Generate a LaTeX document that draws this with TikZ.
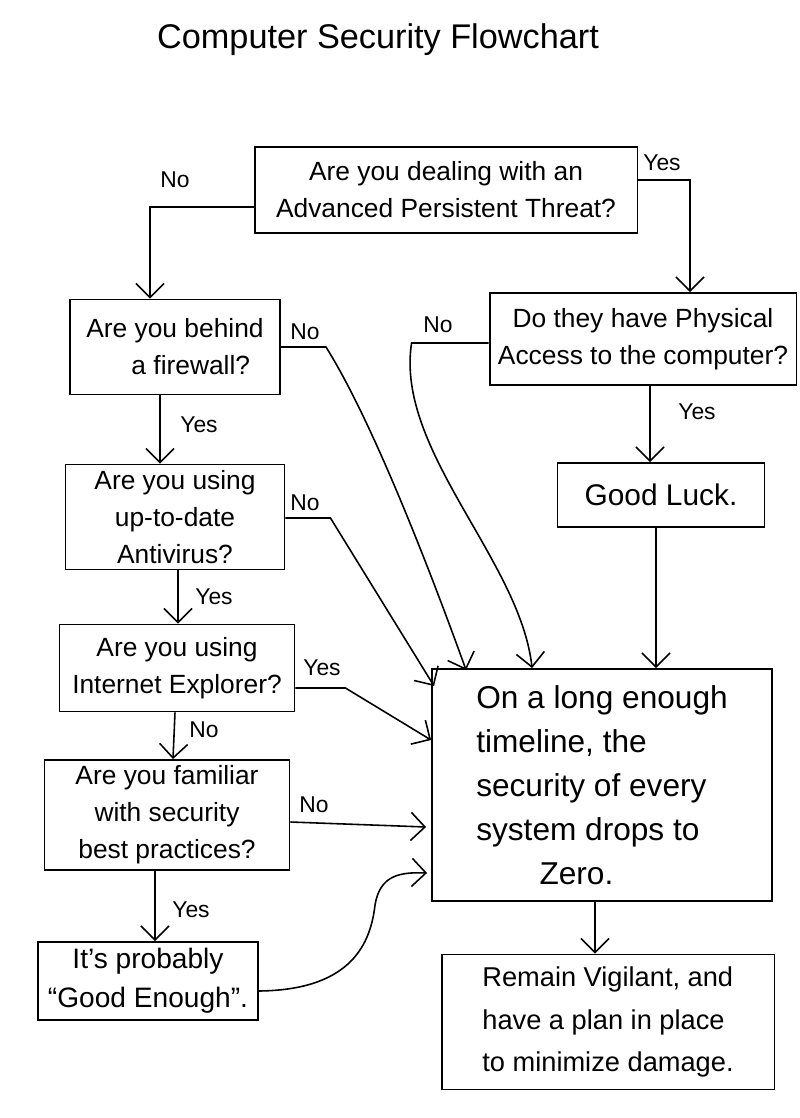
\documentclass[tikz,border=0pt]{standalone}
\usepackage{fontspec}
\setmainfont{Liberation Sans}
\usetikzlibrary{arrows.meta,calc}
\begin{document}
\begin{tikzpicture}[x=0.02cm,y=-0.02cm,
 box/.style={draw, line width=1.1pt, inner sep=0pt, align=center, font=\fontsize{15}{21}\selectfont},
 conn/.style={line width=0.9pt},
 arr/.style={line width=0.9pt, -{Straight Barb[length=8pt,width=16pt]}},
 lbl/.style={font=\fontsize{13}{15}\selectfont, inner sep=0pt}]
\useasboundingbox[fill=white] (0,0) rectangle (800,1118);

\node[font=\fontsize{19.5}{23}\selectfont] (title) at (378,40) {Computer Security Flowchart};

\node[box, minimum width=7.66cm, minimum height=1.72cm] (apt) at (446,190) {Are you dealing with an\\Advanced Persistent Threat?};
\node[box, minimum width=4.2cm, minimum height=1.9cm] (fw) at (175,347) {Are you behind\\\hspace*{1.2em}a firewall?};
\node[box, minimum width=6.14cm, minimum height=1.84cm] (phys) at (643,339) {Do they have Physical\\Access to the computer?};
\node[box, minimum width=4.38cm, minimum height=2.1cm] (av) at (175,517) {Are you using\\up-to-date\\Antivirus?};
\node[box, minimum width=4.14cm, minimum height=1.28cm, font=\fontsize{17}{21}\selectfont] (gl) at (661,495) {Good Luck.};
\node[box, minimum width=4.7cm, minimum height=1.74cm] (ie) at (177,668) {Are you using\\Internet Explorer?};
\node[box, minimum width=6.8cm, minimum height=4.64cm, align=left, font=\fontsize{18}{25}\selectfont] (zero) at (602,785) {On a long enough\\timeline, the\\security of every\\system drops to\\\hspace*{2em}Zero.};
\node[box, minimum width=4.9cm, minimum height=2.2cm] (fam) at (167,815) {Are you familiar\\with security\\best practices?};
\node[box, minimum width=4.4cm, minimum height=1.56cm, font=\fontsize{16}{22}\selectfont] (ge) at (148,981) {It's probably\\``Good Enough''.};
\node[box, minimum width=6.66cm, minimum height=2.7cm, align=left, font=\fontsize{15.5}{24}\selectfont] (vig) at (608,1022) {Remain Vigilant, and\\have a plan in place\\to minimize damage.};

% APT
\draw[arr] ($(apt.west)+(0,17)$) -| ($(fw.north)+(-25,0)$);
\node[lbl] (l1) at (175,180) {No};
\draw[arr] ($(apt.east)+(0,-10)$) -| ($(phys.north)+(47,0)$);
\node[lbl] (l2) at (662,163) {Yes};

% firewall
\draw[arr] (fw.east) -- ++(45,0) coordinate (fwc) .. controls (372,420) and (430,570) .. ($(zero.north west)+(35,2)$);
\node[lbl] (l3) at (305,332) {No};
\draw[arr] ($(fw.south)+(-15,0)$) -- ($(av.north)+(-15,0)$);
\node[lbl] (l4) at (199,425) {Yes};

% physical
\draw[arr] ($(phys.west)+(0,4)$) -- ++(-77,0) coordinate (phc) .. controls (395,450) and (520,560) .. ($(zero.north west)+(101,0)$);
\node[lbl] (l5) at (438,325) {No};
\draw[arr] ($(phys.south)+(7,0)$) -- ($(gl.north)+(-11,0)$);
\node[lbl] (l6) at (697,412) {Yes};
\draw[arr] ($(gl.south)+(-5,0)$) -- ($(zero.north)+(54,0)$);

% antivirus
\draw[arr] ($(av.east)+(0,1)$) -- ++(45,0) coordinate (avc) -- ($(zero.north west)+(3,18)$);
\node[lbl] (l7) at (305,503) {No};
\draw[arr] ($(av.south)+(3,0)$) -- ($(ie.north)+(1,0)$);
\node[lbl] (l8) at (214,597) {Yes};

% IE
\draw[arr] ($(ie.east)+(0,20)$) -- ++(50,0) coordinate (iec) -- ($(zero.west)+(0,-45)$);
\node[lbl] (l9) at (322,668) {Yes};
\draw[arr] ($(ie.south)+(-2,0)$) -- ($(fam.north)+(6,0)$);
\node[lbl] (l10) at (204,730) {No};

% familiar
\draw[arr] ($(fam.east)+(0,7)$) -- ($(zero.west)+(-5,42)$);
\node[lbl] (l11) at (314,805) {No};
\draw[arr] ($(fam.south)+(-12,0)$) -- ($(ge.north)+(7,0)$);
\node[lbl] (l12) at (191,910) {Yes};

% good enough
\draw[arr] ($(ge.east)+(0,10)$) .. controls (345,990) and (370,950) .. (375,905) .. controls (380,875) and (400,872) .. ($(zero.west)+(-4,88)$);

% zero -> vigilant
\draw[arr] ($(zero.south)+(-7,0)$) -- ($(vig.north)+(-13,0)$);
\end{tikzpicture}
\end{document}
